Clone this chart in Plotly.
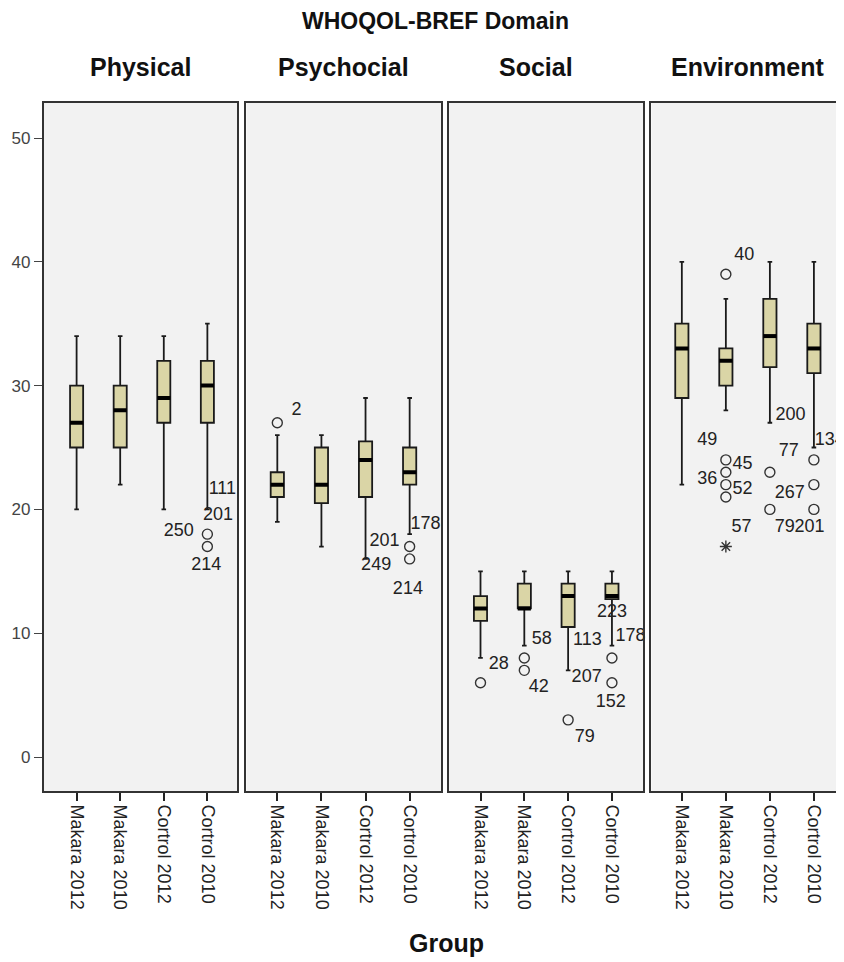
import plotly.graph_objects as go

# ---------------- data ----------------
domains = ["Physical", "Psychocial", "Social", "Environment"]
groups = ["Makara 2012", "Makara 2010", "Cortrol 2012", "Cortrol 2010"]

# per domain: values for the four groups
q1 = {
    "Physical":    [25, 25, 27, 27],
    "Psychocial":  [21, 20.5, 21, 22],
    "Social":      [11, 12, 10.5, 12.75],
    "Environment": [29, 30, 31.5, 31],
}
median = {
    "Physical":    [27, 28, 29, 30],
    "Psychocial":  [22, 22, 24, 23],
    "Social":      [12, 12, 13, 13],
    "Environment": [33, 32, 34, 33],
}
q3 = {
    "Physical":    [30, 30, 32, 32],
    "Psychocial":  [23, 25, 25.5, 25],
    "Social":      [13, 14, 14, 14],
    "Environment": [35, 33, 37, 35],
}
lower_whisker = {
    "Physical":    [20, 22, 20, 20],
    "Psychocial":  [19, 17, 16, 18],
    "Social":      [8, 9, 7, 9],
    "Environment": [22, 28, 27, 25],
}
upper_whisker = {
    "Physical":    [34, 34, 34, 35],
    "Psychocial":  [26, 26, 29, 29],
    "Social":      [15, 15, 15, 15],
    "Environment": [40, 37, 40, 40],
}

# outliers: (group index, value, case label)
outliers = {
    "Physical":    [(3, 18, "250"), (3, 17, "214")],
    "Psychocial":  [(0, 27, "2"), (3, 17, "178"), (3, 16, "214")],
    "Social":      [(0, 6, "28"), (1, 8, "58"), (1, 7, "42"), (2, 3, "79"),
                    (3, 8, "178"), (3, 6, "152")],
    "Environment": [(1, 39, "40"), (1, 24, "49"), (1, 23, "45"), (1, 22, "36"),
                    (1, 21, "52"), (2, 23, "77"), (2, 20, "267"),
                    (3, 24, "134"), (3, 22, "201"), (3, 20, "201")],
}
extremes = {
    "Environment": [(1, 17, "57")],
}

# case-number labels as printed on the chart: (x in group units, y value, text)
case_labels = {
    "Physical":    [(3.03, 21.6, "111"), (2.90, 19.5, "201"), (2.0, 18.2, "250"),
                    (2.63, 15.5, "214")],
    "Psychocial":  [(0.32, 28.0, "2"), (2.09, 17.4, "201"), (1.90, 15.5, "249"),
                    (3.02, 18.8, "178"), (2.62, 13.5, "214")],
    "Social":      [(0.19, 7.5, "28"), (1.17, 9.5, "58"), (1.10, 5.6, "42"),
                    (2.11, 9.4, "113"), (2.08, 6.4, "207"), (2.15, 1.6, "79"),
                    (2.66, 11.7, "223"), (3.08, 9.7, "178"), (2.63, 4.4, "152")],
    "Environment": [(1.19, 40.5, "40"), (0.35, 25.6, "49"), (1.15, 23.6, "45"),
                    (0.35, 22.4, "36"), (1.15, 21.6, "52"), (1.13, 18.5, "57"),
                    (2.13, 27.6, "200"), (2.20, 24.7, "77"), (2.11, 21.3, "267"),
                    (2.11, 18.5, "79"), (2.56, 18.5, "201"), (3.02, 25.6, "134")],
}

y_ticks = [0, 10, 20, 30, 40, 50]

# ---------------- style ----------------
OFF = 8  # page body margin
W, H = 844, 962
FONT = "Liberation Sans, Arial, sans-serif"
box_fill = "#dad5a6"
panel_page = [(44, 238), (247, 442), (450, 645), (653, 852)]
x_ranges = [(-0.75, 3.69), (-0.70, 3.71), (-0.72, 3.72), (-0.69, 3.82)]
plot_top, plot_bottom = 103, 791
y_range = [(757 - plot_bottom) / 12.38, (757 - plot_top) / 12.38]
half_box = 0.15


def fx(px):
    return (px - OFF) / W


def fy(py):
    return 1 - (py - OFF) / H


fig = go.Figure()

for p, dom in enumerate(domains):
    xa = "x" if p == 0 else f"x{p+1}"
    ya = "y" if p == 0 else f"y{p+1}"
    for g in range(len(groups)):
        fig.add_trace(go.Box(
            x=[g], q1=[q1[dom][g]], median=[median[dom][g]], q3=[q3[dom][g]],
            lowerfence=[lower_whisker[dom][g]], upperfence=[upper_whisker[dom][g]],
            boxpoints=False, width=2 * half_box, whiskerwidth=0.35,
            fillcolor=box_fill, line=dict(color="#1a1a1a", width=1.8),
            xaxis=xa, yaxis=ya, showlegend=False, hoverinfo="skip",
        ))
        fig.add_trace(go.Scatter(
            x=[g - half_box, g + half_box], y=[median[dom][g], median[dom][g]],
            mode="lines", line=dict(color="#000000", width=4),
            xaxis=xa, yaxis=ya, showlegend=False, hoverinfo="skip",
        ))
    ol = outliers.get(dom, [])
    if ol:
        fig.add_trace(go.Scatter(
            x=[o[0] for o in ol], y=[o[1] for o in ol], mode="markers",
            marker=dict(symbol="circle-open", size=10, color="#333333",
                        line=dict(width=1.4)),
            xaxis=xa, yaxis=ya, showlegend=False, hoverinfo="skip",
        ))
    ex = extremes.get(dom, [])
    if ex:
        fig.add_trace(go.Scatter(
            x=[o[0] for o in ex], y=[o[1] for o in ex], mode="markers",
            marker=dict(symbol="asterisk-open", size=10, color="#333333",
                        line=dict(width=1.4)),
            xaxis=xa, yaxis=ya, showlegend=False, hoverinfo="skip",
        ))
    cl = case_labels.get(dom, [])
    if cl:
        fig.add_trace(go.Scatter(
            x=[c[0] for c in cl], y=[c[1] for c in cl], text=[c[2] for c in cl],
            mode="text", textposition="middle right",
            textfont=dict(family=FONT, size=18, color="#222222"),
            xaxis=xa, yaxis=ya, showlegend=False, hoverinfo="skip",
            cliponaxis=False,
        ))

layout = dict(
    width=W, height=H,
    margin=dict(l=0, r=0, t=0, b=0),
    paper_bgcolor="white", plot_bgcolor="#f2f2f2",
    font=dict(family=FONT, color="#222222"),
    showlegend=False,
)
ydom = [fy(plot_bottom), fy(plot_top)]
for p, dom in enumerate(domains):
    sx = "" if p == 0 else str(p + 1)
    x0, x1 = panel_page[p]
    layout["xaxis" + sx] = dict(
        domain=[fx(x0), min(fx(x1), 1.0)], range=list(x_ranges[p]),
        anchor="y" + sx, tickmode="array", tickvals=list(range(len(groups))),
        ticktext=groups, tickangle=90, ticks="outside", ticklen=8,
        tickcolor="#222222", tickwidth=1.5,
        tickfont=dict(family=FONT, size=18, color="#222222"),
        showline=True, mirror=True, linecolor="#333333", linewidth=2,
        showgrid=False, zeroline=False, fixedrange=True,
    )
    layout["yaxis" + sx] = dict(
        domain=ydom, range=y_range, anchor="x" + sx,
        tickmode="array", tickvals=y_ticks,
        showticklabels=(p == 0), ticks="outside" if p == 0 else "",
        ticklen=8, tickcolor="#444444", tickwidth=1.2,
        tickfont=dict(family=FONT, size=17, color="#444444"),
        showline=True, mirror=True, linecolor="#333333", linewidth=2,
        showgrid=False, zeroline=False, fixedrange=True,
    )

annotations = [dict(
    text="<b>WHOQOL-BREF Domain</b>", x=fx(437), y=fy(21),
    xref="paper", yref="paper", showarrow=False,
    font=dict(family=FONT, size=23, color="#111111"), xanchor="center", yanchor="middle",
)]
title_centers = [141, 344, 537, 749]
for p, dom in enumerate(domains):
    annotations.append(dict(
        text=f"<b>{dom}</b>", x=fx(title_centers[p]), y=fy(67), xref="paper", yref="paper",
        showarrow=False, font=dict(family=FONT, size=25, color="#111111"),
        xanchor="center", yanchor="middle",
    ))
annotations.append(dict(
    text="<b>Group</b>", x=fx(448), y=fy(943),
    xref="paper", yref="paper", showarrow=False,
    font=dict(family=FONT, size=25, color="#111111"), xanchor="center", yanchor="middle",
))
layout["annotations"] = annotations

fig.update_layout(**layout)
fig.write_html("out.html")
